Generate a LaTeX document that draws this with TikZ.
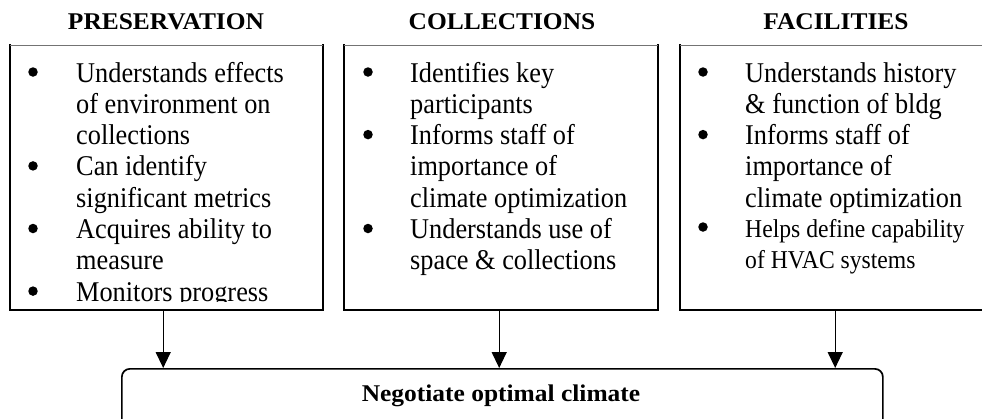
\documentclass[tikz,border=0pt]{standalone}
\usepackage{fontspec}
\setmainfont{Liberation Serif}
\newfontfamily\bodyfont{Liberation Serif}[FakeStretch=0.92]
\newfontfamily\hdfont{Liberation Serif}[FakeStretch=1.06]
\usetikzlibrary{arrows.meta}
\tikzset{
  body/.style={font=\bodyfont\fontsize{28.6}{31}\selectfont, inner sep=0pt, anchor=base west},
  smallbody/.style={font=\bodyfont\fontsize{25.7}{31}\selectfont, inner sep=0pt, anchor=base west},
  bul/.style={circle, fill=black, inner sep=0pt, minimum size=9.5pt, yshift=10pt},
  hd/.style={font=\hdfont\bfseries\fontsize{24}{26}\selectfont, inner sep=0pt, anchor=base},
  boxarea/.style={inner sep=0pt, anchor=north west, minimum height=265pt},
  side/.style={line width=1.9pt, line cap=rect},
  topedge/.style={line width=0.9pt, draw=black!55},
  arr/.style={line width=1.3pt, -{Triangle[width=15pt,length=16pt]}},
  botbox/.style={draw, line width=1.7pt, rounded corners=8pt, inner sep=0pt, anchor=north west, minimum width=761pt, minimum height=90pt}
}
\begin{document}
\begin{tikzpicture}[x=1pt,y=-1pt]
\useasboundingbox (0,0) rectangle (982,418);
\clip (0,0) rectangle (982,418);
% headers
\node[hd] (h1) at (166,29) {PRESERVATION};
\node[hd] (h2) at (502,29) {COLLECTIONS};
\node[hd] (h3) at (836,29) {FACILITIES};
% box areas
\node[boxarea, minimum width=313pt] (b1) at (10,45) {};
\node[boxarea, minimum width=314pt] (b2) at (344,45) {};
\node[boxarea, minimum width=312pt] (b3) at (680,45) {};
\draw[side] (b1.north west) -- (b1.south west) -- (b1.south east) -- (b1.north east);
\draw[side] (b2.north west) -- (b2.south west) -- (b2.south east) -- (b2.north east);
\draw[side] (b3.north west) -- (b3.south west) -- (b3.south east) -- (b3.north east);
\draw[topedge] (b1.north west) -- (b1.north east);
\draw[topedge] (b2.north west) -- (b2.north east);
\draw[topedge] (b3.north west) -- (b3.north east);
% texts (clipped)
\begin{scope}
\clip (0,46) rectangle (982,301.6);
\node[bul] (pb1) at (33,82) {};
\node[body] (p1) at (76,82) {Understands effects};
\node[body] (p2) at (76,113.3) {of environment on};
\node[body] (p3) at (76,144.6) {collections};
\node[bul] (pb2) at (33,175.9) {};
\node[body] (p4) at (76,175.9) {Can identify};
\node[body] (p5) at (76,207.2) {significant metrics};
\node[bul] (pb3) at (33,238.5) {};
\node[body] (p6) at (76,238.5) {Acquires ability to};
\node[body] (p7) at (76,269.8) {measure};
\node[bul] (pb4) at (33,301.1) {};
\node[body] (p8) at (76,301.1) {Monitors progress};
%
\node[bul] (cb1) at (368,82) {};
\node[body] (c1) at (410,82) {Identifies key};
\node[body] (c2) at (410,113.3) {participants};
\node[bul] (cb2) at (368,144.6) {};
\node[body] (c3) at (410,144.6) {Informs staff of};
\node[body] (c4) at (410,175.9) {importance of};
\node[body] (c5) at (410,207.2) {climate optimization};
\node[bul] (cb3) at (368,238.5) {};
\node[body] (c6) at (410,238.5) {Understands use of};
\node[body] (c7) at (410,269.8) {space \& collections};
%
\node[bul] (fb1) at (703,82) {};
\node[body] (f1) at (745,82) {Understands history};
\node[body] (f2) at (745,113.3) {\& function of bldg};
\node[bul] (fb2) at (703,144.6) {};
\node[body] (f3) at (745,144.6) {Informs staff of};
\node[body] (f4) at (745,175.9) {importance of};
\node[body] (f5) at (745,207.2) {climate optimization};
\node[bul] (fb3) at (703,237) {};
\node[smallbody] (f6) at (745,237) {Helps define capability};
\node[smallbody] (f7) at (745,268) {of HVAC systems};
\end{scope}
% bottom box
\node[botbox] (bot) at (121,368) {};
\node[hd] (botlabel) at (501,401) {Negotiate optimal climate};
% arrows
\draw[arr] ([xshift=-3.5pt]b1.south) -- ([xshift=-3.5pt]b1.south |- bot.north);
\draw[arr] ([xshift=-2pt]b2.south) -- ([xshift=-2pt]b2.south |- bot.north);
\draw[arr] ([xshift=-1pt]b3.south) -- ([xshift=-1pt]b3.south |- bot.north);
\end{tikzpicture}
\end{document}
